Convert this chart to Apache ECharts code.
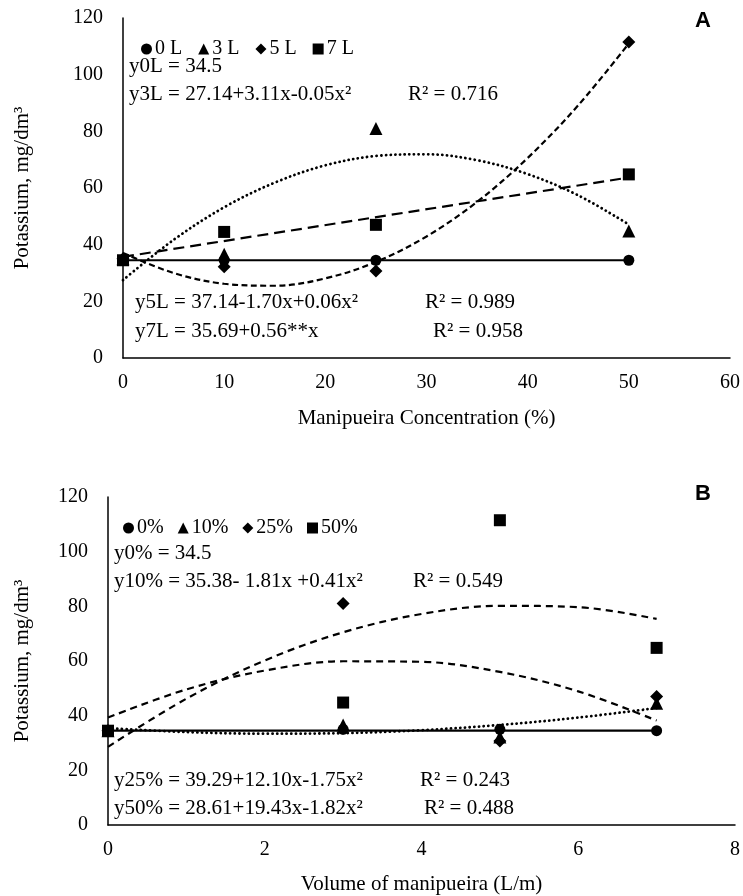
<!DOCTYPE html>
<html>
<head>
<meta charset="utf-8">
<script src="https://cdn.jsdelivr.net/npm/echarts@6/dist/echarts.min.js"></script>
<style>
html,body{margin:0;padding:0;background:#fff;}
#chart{width:743px;height:896px;}
</style>
</head>
<body>
<div id="chart"></div>
<script>
// ---------- Data ----------
// Panel A: x = manipueira concentration (%)
const concX = [0, 10, 25, 50];
const a0L = [34.5, 34.5, 34.5, 34.5];
const a3L = [35, 36.6, 81, 44.8];
const a5L = [35, 32.2, 30.7, 111.5];
const a7L = [34.5, 44.5, 47, 64.8];
// Panel A trend lines (sampled off the drawn curves)
const aTrendX = [0, 5, 10, 15, 20, 25, 30, 35, 40, 45, 50];
const aTrend3L = [27.5, 41.7, 53.2, 61.9, 68.0, 71.3, 71.9, 69.8, 64.9, 57.4, 47.1];
const aTrend5L = [37.1, 30.0, 26.2, 25.5, 28.1, 33.9, 42.9, 55.1, 70.6, 89.2, 111];
const aTrend7LX = [0, 50];
const aTrend7L = [35.7, 63.7];
const aTrend0LX = [0, 50];
const aTrend0L = [34.5, 34.5];

// Panel B: x = volume of manipueira (L/m)
const volX = [0, 3, 5, 7];
const b0 = [34.5, 35, 35, 34.5];
const b10 = [34.5, 36.6, 32.2, 44.5];
const b25 = [34.5, 81, 30.7, 47];
const b50 = [34.5, 44.8, 111.5, 64.8];
// Panel B trend lines (sampled off the drawn curves)
const bTrendX = [0, 1, 2, 3, 4, 5, 6, 7];
const bTrend10 = [35.4, 34.0, 33.4, 33.6, 34.7, 36.6, 39.3, 42.8];
const bTrend25 = [39.3, 49.6, 56.5, 59.9, 59.7, 56.0, 48.9, 38.2];
const bTrend50 = [28.6, 46.2, 60.2, 70.5, 77.2, 80.2, 79.7, 75.4];
const bTrend0X = [0, 7];
const bTrend0 = [34.5, 34.5];

const yTicks = [0, 20, 40, 60, 80, 100, 120];
const aXTicks = [0, 10, 20, 30, 40, 50, 60];
const bXTicks = [0, 2, 4, 6, 8];

const legendA = ['0 L', '3 L', '5 L', '7 L'];
const legendB = ['0%', '10%', '25%', '50%'];

// ---------- Helpers ----------
const SERIF = "'Liberation Serif','Times New Roman',serif";
const zip = (xs, ys) => xs.map((x, i) => [x, ys[i]]);
const SYM = ['circle', 'triangle', 'diamond', 'rect'];
const SYMSIZE = [11, 13, 13, 12];

function scat(name, xs, ys, k, idx) {
  return {
    type: 'scatter', name: name, xAxisIndex: idx, yAxisIndex: idx,
    data: zip(xs, ys), symbol: SYM[k], symbolSize: SYMSIZE[k],
    itemStyle: { color: '#000', opacity: 1 }, z: 5, silent: true
  };
}
function trend(name, xs, ys, type, width, idx, cap) {
  return {
    type: 'line', name: name, xAxisIndex: idx, yAxisIndex: idx,
    data: zip(xs, ys), showSymbol: false, smooth: xs.length > 2 ? 0.35 : false,
    lineStyle: { color: '#000', width: width, type: type, cap: cap || 'butt', opacity: 1 },
    z: 3, silent: true
  };
}
function txt(x, y, s, size, extra) {
  return Object.assign({
    type: 'text', x: x, y: y, silent: true,
    style: { text: s, font: (size || 21) + 'px ' + SERIF, fill: '#000', verticalAlign: 'middle' }
  }, extra || {});
}

const axisLabel = { color: '#000', fontFamily: SERIF, fontSize: 20 };
const axisLine = { show: true, onZero: false, lineStyle: { color: '#000', width: 1.5 } };
const nameStyle = { color: '#000', fontFamily: SERIF, fontSize: 21 };

const DOT = [0.1, 4.6];

const chart = echarts.init(document.getElementById('chart'));
chart.setOption({
  animation: false,
  backgroundColor: '#fff',
  grid: [
    { left: 123, right: 10, top: 18, height: 340, containLabel: false },
    { left: 108, right: 2, top: 497, height: 336, containLabel: false }
  ],
  xAxis: [
    { gridIndex: 0, type: 'value', min: aXTicks[0], max: aXTicks[aXTicks.length - 1], interval: 10,
      axisLine: axisLine, axisTick: { show: false }, splitLine: { show: false },
      axisLabel: Object.assign({ margin: 15 }, axisLabel),
      name: 'Manipueira Concentration (%)', nameLocation: 'middle', nameGap: 50, nameTextStyle: nameStyle },
    { gridIndex: 1, type: 'value', min: bXTicks[0], max: bXTicks[bXTicks.length - 1], interval: 2,
      axisLine: axisLine, axisTick: { show: false }, splitLine: { show: false },
      axisLabel: Object.assign({ margin: 15 }, axisLabel),
      name: 'Volume of manipueira (L/m)', nameLocation: 'middle', nameGap: 49, nameTextStyle: nameStyle }
  ],
  yAxis: [
    { gridIndex: 0, type: 'value', min: yTicks[0], max: yTicks[yTicks.length - 1], interval: 20,
      axisLine: axisLine, axisTick: { show: false }, splitLine: { show: false },
      axisLabel: Object.assign({ margin: 20 }, axisLabel),
      name: 'Potassium, mg/dm³', nameLocation: 'middle', nameGap: 90, nameTextStyle: nameStyle },
    { gridIndex: 1, type: 'value', min: yTicks[0], max: yTicks[yTicks.length - 1], interval: 20,
      axisLine: axisLine, axisTick: { show: false }, splitLine: { show: false },
      axisLabel: Object.assign({ margin: 20 }, axisLabel),
      name: 'Potassium, mg/dm³', nameLocation: 'middle', nameGap: 75, nameTextStyle: nameStyle }
  ],
  legend: [
    { data: legendA.map((n, k) => ({ name: n, icon: SYM[k] })), left: 136, top: 34,
      itemWidth: 11, itemHeight: 11, itemGap: 16, selectedMode: false,
      itemStyle: { opacity: 1, color: '#000' },
      textStyle: { color: '#000', fontFamily: SERIF, fontSize: 20, padding: [0, 0, 0, -2] } },
    { data: legendB.map((n, k) => ({ name: n, icon: SYM[k] })), left: 118, top: 513,
      itemWidth: 11, itemHeight: 11, itemGap: 14, selectedMode: false,
      itemStyle: { opacity: 1, color: '#000' },
      textStyle: { color: '#000', fontFamily: SERIF, fontSize: 20, padding: [0, 0, 0, -2] } }
  ],
  series: [
    trend('t0L', aTrend0LX, aTrend0L, 'solid', 2.2, 0),
    trend('t3L', aTrendX, aTrend3L, DOT, 2.8, 0, 'round'),
    trend('t5L', aTrendX, aTrend5L, [6, 3.5], 2.2, 0),
    trend('t7L', aTrend7LX, aTrend7L, [11, 6], 2.2, 0),
    scat('0 L', concX, a0L, 0, 0),
    scat('3 L', concX, a3L, 1, 0),
    scat('5 L', concX, a5L, 2, 0),
    scat('7 L', concX, a7L, 3, 0),

    trend('t0', bTrend0X, bTrend0, 'solid', 2.2, 1),
    trend('t10', bTrendX, bTrend10, DOT, 2.8, 1, 'round'),
    trend('t25', bTrendX, bTrend25, [7, 5], 2.2, 1),
    trend('t50', bTrendX, bTrend50, [7, 5], 2.2, 1),
    scat('0%', volX, b0, 0, 1),
    scat('10%', volX, b10, 1, 1),
    scat('25%', volX, b25, 2, 1),
    scat('50%', volX, b50, 3, 1)
  ],
  graphic: [
    { type: 'text', x: 695, y: 10, silent: true,
      style: { text: 'A', font: 'bold 22px "Liberation Sans", Arial, sans-serif', fill: '#000' } },
    { type: 'text', x: 695, y: 483, silent: true,
      style: { text: 'B', font: 'bold 22px "Liberation Sans", Arial, sans-serif', fill: '#000' } },

    txt(129, 66, 'y0L = 34.5'),
    txt(129, 94, 'y3L = 27.14+3.11x-0.05x²'),
    txt(408, 94, 'R² = 0.716'),
    txt(135, 302, 'y5L = 37.14-1.70x+0.06x²'),
    txt(425, 302, 'R² = 0.989'),
    txt(135, 331, 'y7L = 35.69+0.56**x'),
    txt(433, 331, 'R² = 0.958'),

    txt(114, 553, 'y0% = 34.5'),
    txt(114, 581, 'y10% = 35.38- 1.81x +0.41x²'),
    txt(413, 581, 'R² = 0.549'),
    txt(114, 780, 'y25% = 39.29+12.10x-1.75x²'),
    txt(420, 780, 'R² = 0.243'),
    txt(114, 808, 'y50% = 28.61+19.43x-1.82x²'),
    txt(424, 808, 'R² = 0.488')
  ]
});
</script>
</body>
</html>
